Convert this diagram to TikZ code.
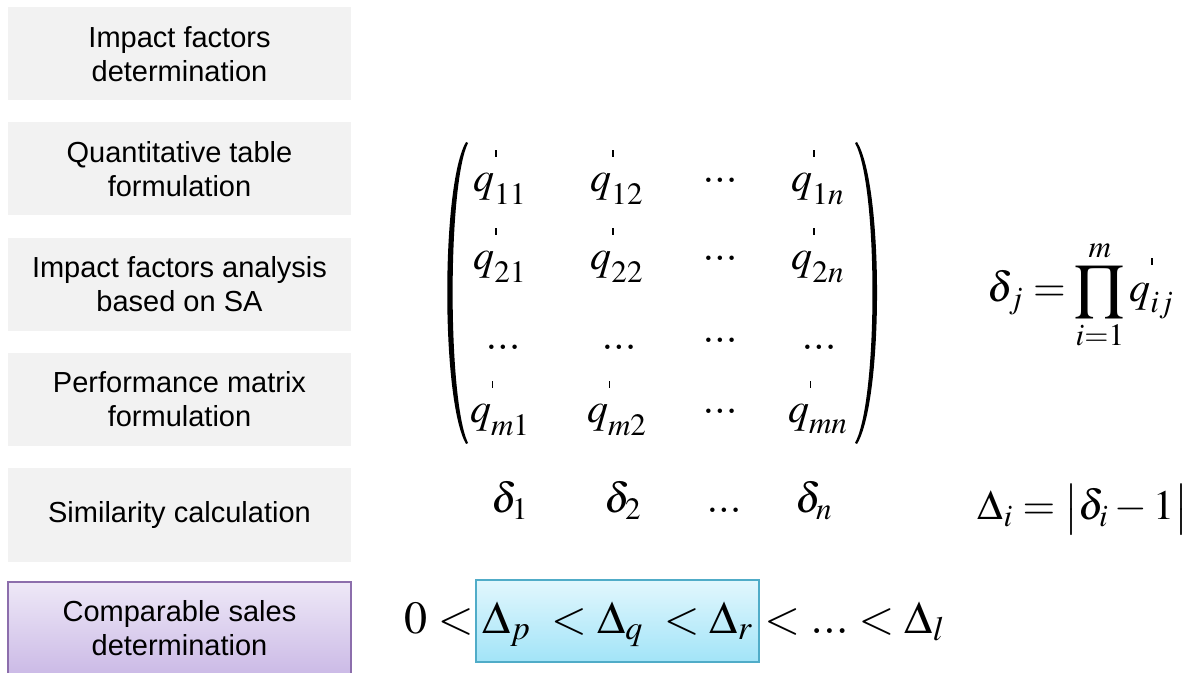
\documentclass[tikz,border=0pt]{standalone}
\usepackage{mathptmx}
\usepackage[no-math]{fontspec}
\setmainfont{Liberation Sans}
\newcommand{\pr}{\hbox{\kern0.5pt\raisebox{10pt}{\rule{0.7pt}{3.5pt}}}}
\newcommand{\ldts}{{.}{.}{.}}
\newcommand{\cdts}{\raisebox{0.22em}{$\ldts$}}
\definecolor{boxgray}{RGB}{242,242,242}
\definecolor{purptop}{RGB}{238,232,247}
\definecolor{purpbot}{RGB}{203,186,230}
\definecolor{purpline}{RGB}{140,110,172}
\definecolor{cyantop}{RGB}{226,247,253}
\definecolor{cyanbot}{RGB}{162,228,248}
\definecolor{cyanline}{RGB}{80,172,200}
\tikzset{
  stepbox/.style={fill=boxgray, minimum width=171.5pt, minimum height=46.5pt, inner sep=0pt, align=center,
    font=\fontsize{14.5}{17}\selectfont},
  lastbox/.style={stepbox, top color=purptop, bottom color=purpbot, draw=purpline, line width=0.6pt},
  mathnode/.style={inner sep=0pt, anchor=base, font=\fontsize{21}{25}\selectfont},
  bignode/.style={inner sep=0pt, anchor=base, font=\fontsize{23}{27}\selectfont},
}
\begin{document}
\begin{tikzpicture}[x=0.5pt,y=-0.5pt]
\useasboundingbox (0,0) rectangle (1189,673);
% left column
\node[stepbox] (b1) at (179.5,54) {Impact factors\\determination};
\node[stepbox] (b2) at (179.5,169) {Quantitative table\\formulation};
\node[stepbox] (b3) at (179.5,284.5) {Impact factors analysis\\based on SA};
\node[stepbox] (b4) at (179.5,399.5) {Performance matrix\\formulation};
\node[stepbox] (b5) at (179.5,515) {Similarity calculation};
\node[lastbox] (b6) at (179.5,628.5) {Comparable sales\\determination};
% matrix parentheses
\fill (466,142) .. controls (441,185) and (441,400) .. (466,444) -- (468,443) .. controls (447.5,400) and (447.5,185) .. (468,143) -- cycle;
\fill (857,142) .. controls (883.7,185) and (883.7,400) .. (857,444) -- (855,443) .. controls (878.3,400) and (878.3,185) .. (855,143) -- cycle;
% matrix entries
\node[mathnode] (m11) at (500,192) {$q^{\pr}_{11}$};
\node[mathnode] (m12) at (617,192) {$q^{\pr}_{12}$};
\node[mathnode] (m13) at (720,192) {$\cdts$};
\node[mathnode] (m14) at (818,192) {$q^{\pr}_{1n}$};
\node[mathnode] (m21) at (500,270) {$q^{\pr}_{21}$};
\node[mathnode] (m22) at (617,270) {$q^{\pr}_{22}$};
\node[mathnode] (m23) at (720,270) {$\cdts$};
\node[mathnode] (m24) at (818,270) {$q^{\pr}_{2n}$};
\node[mathnode] (m31) at (503,350) {$\ldts$};
\node[mathnode] (m32) at (619,350) {$\ldts$};
\node[mathnode] (m33) at (720,343) {$\ldts$};
\node[mathnode] (m34) at (819,350) {$\ldts$};
\node[mathnode] (m41) at (500,423) {$q^{\pr}_{m1}$};
\node[mathnode] (m42) at (617,423) {$q^{\pr}_{m2}$};
\node[mathnode] (m43) at (720,423) {$\cdts$};
\node[mathnode] (m44) at (818,423) {$q^{\pr}_{mn}$};
% delta row
\node[mathnode] (d1) at (510,513) {$\delta_{1}$};
\node[mathnode] (d2) at (623,513) {$\delta_{2}$};
\node[mathnode] (d3) at (724,513) {$\ldts$};
\node[mathnode] (dn) at (814,513) {$\delta_{n}$};
% right formulas
\node[mathnode] (prodf) at (1081,302) {$\displaystyle \delta_{j} = \prod_{i=1}^{m} q^{\pr}_{ij}$};
\node[mathnode] (absf) at (1083,520) {$\displaystyle \Delta_{i} = \bigl|\delta_{i} - 1\bigr|$};
% bottom
\node[draw=cyanline, line width=0.6pt, top color=cyantop, bottom color=cyanbot, minimum width=141.5pt, minimum height=41pt, inner sep=0pt] (hl) at (617.5,621) {};
\node[bignode, anchor=base east] (lt0) at (474,633) {$0<$};
\node[bignode] (sel) at (hl.center |- 0,633) {$\Delta_{p}\;<\Delta_{q}\;<\Delta_{r}$};
\node[bignode, anchor=base west] (rest) at (764,633) {$<\ldts<\Delta_{l}$};
\end{tikzpicture}
\end{document}
